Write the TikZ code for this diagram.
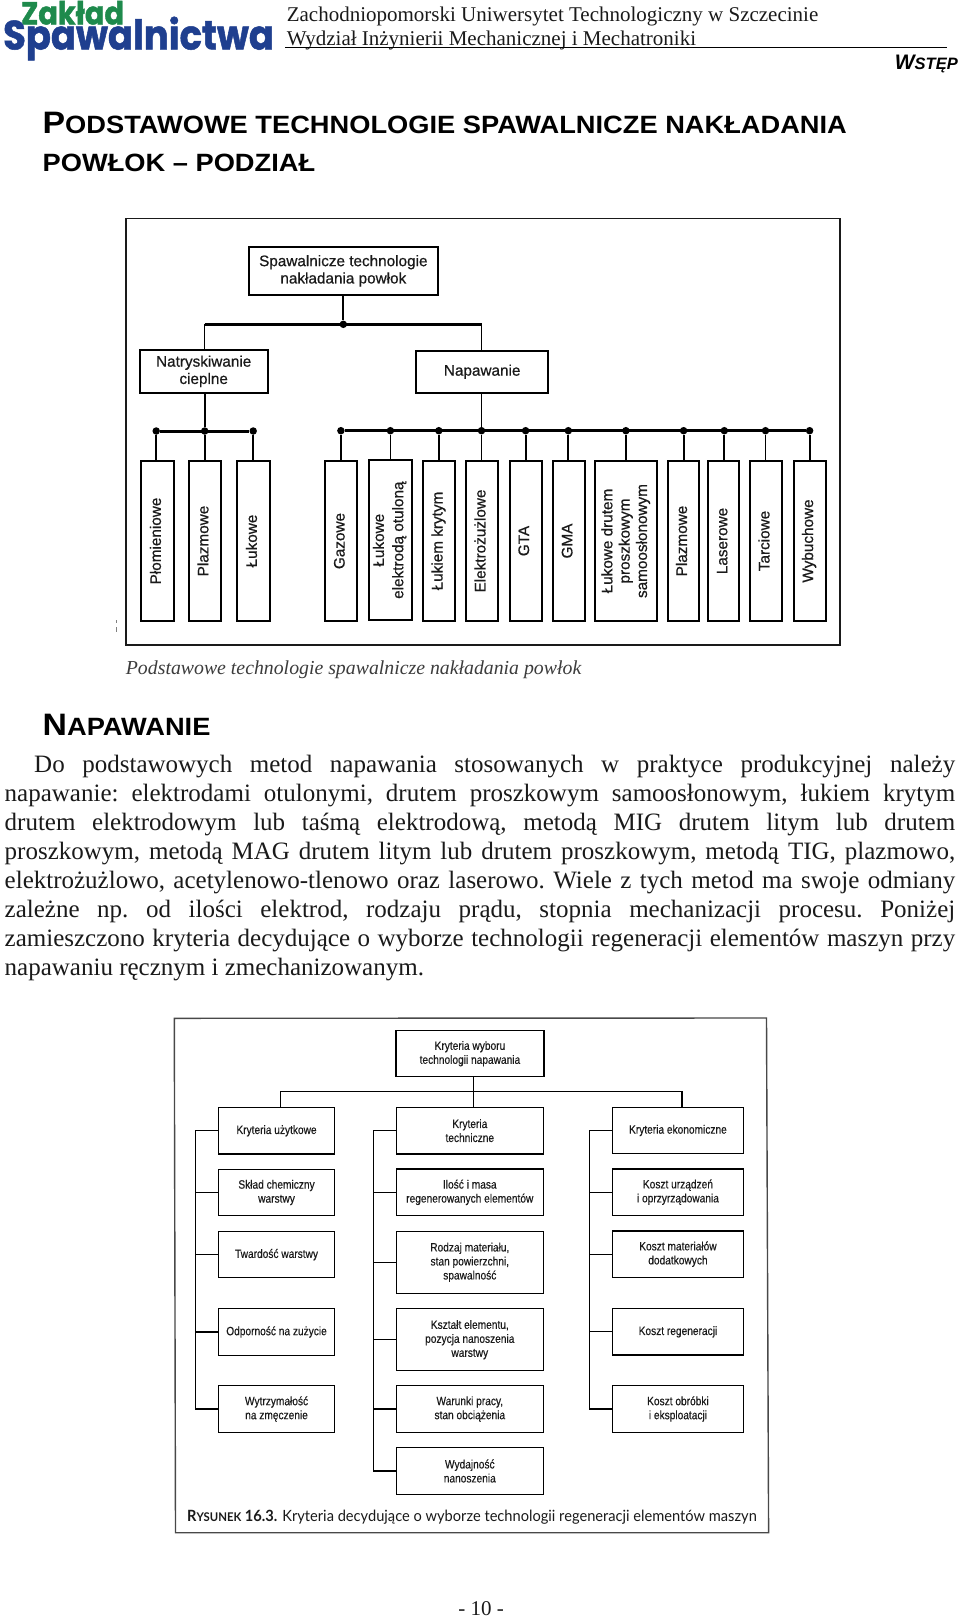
\documentclass[tikz,border=0pt]{standalone}
\usepackage{fontspec}
\usepackage{graphicx}
\setmainfont{Liberation Serif}
\setsansfont{Liberation Sans}
\newfontfamily\cond[FakeStretch=0.84,FakeBold=0.3]{Liberation Sans}
\newfontfamily\diagfont[FakeBold=0.6]{Liberation Sans}
\newfontfamily\hdfont[FakeStretch=1.09]{Liberation Sans}
\newfontfamily\capfont[FakeStretch=0.945]{Lato}
\newfontfamily\logofont[FakeStretch=0.90,BoldFeatures={FakeBold=1.2}]{Poppins}
\usetikzlibrary{calc}
\definecolor{ink}{HTML}{1A1A1A}
\definecolor{logogreen}{HTML}{1E8A4C}
\definecolor{logoblue}{HTML}{1F3F8F}
\newcommand{\bigsc}[4]{{\fontsize{#1}{#1}\selectfont #3}{\fontsize{#2}{#2}\selectfont #4}}
\newcommand{\rt}[1]{\rotatebox[origin=c]{90}{\raisebox{-2pt}{\begin{tabular}{@{}c@{}}#1\end{tabular}}}}
\newcommand{\bx}[7][]{%
  \pgfmathsetmacro\cxx{(#3+#5)/2}%
  \pgfmathsetmacro\cyy{(#4+#6)/2}%
  \node[#1,minimum width={(#5-#3)*1pt},minimum height={(#6-#4)*1pt}] (#2) at (\cxx,\cyy) {#7};}
\tikzset{
  frameone/.style={draw=ink,line width=1.6pt},
  frametwo/.style={draw=ink!80,line width=1.4pt},
  bxa/.style={draw=black,line width=2pt,inner sep=0pt,outer sep=0pt,align=center,text=ink,
    font=\diagfont\fontsize{15.3}{17.3}\selectfont},
  bxb/.style={draw=black,line width=1.2pt,inner sep=0pt,outer sep=0pt,align=center,text=ink,
    font=\cond\fontsize{12.1}{14}\selectfont},
  wire/.style={draw=black,line width=1.8pt},
  bar/.style={draw=black,line width=3pt},
  wireb/.style={draw=black,line width=1.2pt},
  jdot/.style={circle,fill=black,inner sep=0pt,minimum size=7.5pt},
  head/.style={anchor=base west,inner sep=0pt,font=\hdfont\bfseries,text=black},
  bodyt/.style={anchor=north west,inner sep=0pt,align=left,text=ink,font=\frenchspacing\fontsize{25}{29}\selectfont},
  ptxt/.style={anchor=base west,inner sep=0pt,text=ink}
}
\newcommand{\jl}[1]{\makebox[950.5pt][s]{#1}}
\begin{document}
\begin{tikzpicture}[x=1pt,y=-1pt]
\useasboundingbox[fill=white] (0,0) rectangle (960,1617);
% logo
\node[ptxt,text=logogreen,font=\logofont\bfseries\fontsize{32}{32}\selectfont] (lg1) at (21,24.5) {Zakład};
\node[ptxt,text=logoblue,font=\logofont\bfseries\fontsize{41}{41}\selectfont] (lg2) at (3,49.5) {Spawalnictwa};
% header
\node[ptxt,font=\fontsize{21}{24}\selectfont] (h1) at (286.6,21) {Zachodniopomorski Uniwersytet Technologiczny w Szczecinie};
\node[ptxt,font=\fontsize{21}{24}\selectfont] (h2) at (286.6,45) {Wydział Inżynierii Mechanicznej i Mechatroniki};
\coordinate (r1) at (285,47.7); \coordinate (r2) at (947,47.7);
\draw[line width=1.5pt,black] (r1) -- (r2);
\node[head,anchor=base east,font=\sffamily\bfseries\itshape] (wst) at (958,69.5) {\bigsc{21}{16.5}{W}{STĘP}};
% headings
\node[head] (t1) at (42.5,133.5) {\bigsc{31}{25}{P}{ODSTAWOWE TECHNOLOGIE SPAWALNICZE NAKŁADANIA}};
\node[head] (t2) at (42.5,171.5) {\bigsc{25}{25}{P}{OWŁOK – PODZIAŁ}};
\node[head] (t3) at (42.5,735) {\bigsc{31}{25}{N}{APAWANIE}};
% first diagram
\draw[frameone] (125.7,218.3) rectangle (840,645);
\coordinate (m1) at (116,620); \coordinate (m2) at (116,623); \coordinate (m3) at (116,627); \coordinate (m4) at (116,632);
\draw[gray,line width=.8pt] (m1)--(m2) (m3)--(m4);
\bx[bxa]{top}{248.8}{246.7}{437.9}{295}{Spawalnicze technologie\\nakładania powłok}
\bx[bxa]{nat}{139.7}{350}{267.7}{392.7}{Natryskiwanie\\cieplne}
\bx[bxa]{nap}{416}{350.7}{548.4}{392.7}{Napawanie}
\node[jdot] (j0) at (343.3,324.3) {};
\coordinate (jl) at (204.5,324.3); \coordinate (jr) at (481.5,324.3);
\draw[wire] (top.south-|j0) -- (j0);
\draw[bar,line width=2.4pt] (jl) -- (jr);
\draw[wire] (jl) -- (jl|-nat.north);
\draw[wire] (jr) -- (jr|-nap.north);
% left group
\foreach \n/\a/\b/\t in {b1/141.2/173.7/Płomieniowe,b2/188.7/221.2/Plazmowe,b3/237.2/269.7/Łukowe}{
  \bx[bxa]{\n}{\a}{461}{\b}{621}{\rt{\t}}
}
\node[jdot] (ja) at (156.2,431) {};
\node[jdot] (jb) at (204.7,431) {};
\node[jdot] (jc) at (253.2,431) {};
\draw[bar] (ja) -- (jc);
\draw[wire] (jb|-nat.south) -- (jb);
\draw[wire] (ja) -- (ja|-b1.north);
\draw[wire] (jb) -- (jb|-b2.north);
\draw[wire] (jc) -- (jc|-b3.north);
% right group
\bx[bxa]{c1}{324.9}{461}{357.4}{621}{\rt{Gazowe}}
\bx[bxa]{c2}{368.5}{460.3}{411.7}{620}{\rt{Łukowe\\[2pt]elektrodą otuloną}}
\bx[bxa]{c3}{422.8}{461}{455.3}{621}{\rt{Łukiem krytym}}
\bx[bxa]{c4}{466}{461}{498}{621}{\rt{Elektrożużlowe}}
\bx[bxa]{c5}{509.6}{461}{541.6}{621}{\rt{GTA}}
\bx[bxa]{c6}{553.2}{461}{584.7}{621}{\rt{GMA}}
\bx[bxa]{c7}{595.4}{461}{657}{621}{\rt{Łukowe drutem\\proszkowym\\samoosłonowym}}
\bx[bxa]{c8}{668}{461}{699}{621}{\rt{Plazmowe}}
\bx[bxa]{c9}{708.3}{461}{739.4}{621}{\rt{Laserowe}}
\bx[bxa]{c10}{750}{461}{782}{621}{\rt{Tarciowe}}
\bx[bxa]{c11}{793.6}{461}{825.6}{621}{\rt{Wybuchowe}}
\foreach \i/\x in {1/340.9,2/390.4,3/438.8,4/481.5,5/525.6,6/568.3,7/625.9,8/683.6,9/724.3,10/765.5,11/809.6}{
  \node[jdot] (d\i) at (\x,430.7) {};
  \draw[wire] (d\i) -- (d\i|-c\i.north);
}
\draw[bar] (d1) -- (d11);
\draw[wire] (d4|-nap.south) -- (d4);
\node[ptxt,text=ink!85,font=\itshape\fontsize{19.8}{20}\selectfont] (cap1) at (125.7,674) {Podstawowe technologie spawalnicze nakładania powłok};
% body
\node[bodyt] (body) at (4.5,754.5) {%
\jl{\hspace{29.5pt}Do podstawowych metod napawania stosowanych w praktyce produkcyjnej należy}\\
\jl{napawanie: elektrodami otulonymi, drutem proszkowym samoosłonowym, łukiem krytym}\\
\jl{drutem elektrodowym lub taśmą elektrodową, metodą MIG drutem litym lub drutem}\\
\jl{proszkowym, metodą MAG drutem litym lub drutem proszkowym, metodą TIG, plazmowo,}\\
\jl{elektrożużlowo, acetylenowo-tlenowo oraz laserowo. Wiele z tych metod ma swoje odmiany}\\
\jl{zależne np. od ilości elektrod, rodzaju prądu, stopnia mechanizacji procesu. Poniżej}\\
\jl{zamieszczono kryteria decydujące o wyborze technologii regeneracji elementów maszyn przy}\\
napawaniu ręcznym i zmechanizowanym.};
% second diagram
\draw[frametwo] (174.3,1018.3) -- (766.5,1018) -- (768.6,1532.7) -- (175.5,1532.7) -- cycle;
\bx[bxb]{k0}{395.9}{1030.7}{544}{1076.7}{Kryteria wyboru\\technologii napawania}
\bx[bxb]{a1}{218.4}{1107.7}{334.7}{1154}{Kryteria użytkowe}
\bx[bxb]{a2}{218.4}{1169.3}{334.7}{1215.7}{Skład chemiczny\\warstwy}
\bx[bxb]{a3}{218.4}{1231.7}{334.7}{1277.7}{Twardość warstwy}
\bx[bxb]{a4}{218.4}{1308.7}{334.7}{1355.3}{Odporność na zużycie}
\bx[bxb]{a5}{218.4}{1385.7}{334.7}{1432.3}{Wytrzymałość\\na zmęczenie}
\bx[bxb]{e1}{396.3}{1107.3}{543.3}{1154}{Kryteria\\techniczne}
\bx[bxb]{e2}{396.3}{1169}{543.3}{1215.7}{Ilość i masa\\regenerowanych elementów}
\bx[bxb]{e3}{396.3}{1231.3}{543.3}{1293.3}{Rodzaj materiału,\\stan powierzchni,\\spawalność}
\bx[bxb]{e4}{396.3}{1308.7}{543.3}{1370.7}{Kształt elementu,\\pozycja nanoszenia\\warstwy}
\bx[bxb]{e5}{396.3}{1385.7}{543.3}{1432.3}{Warunki pracy,\\stan obciążenia}
\bx[bxb]{e6}{396.3}{1447.7}{543.3}{1494.3}{Wydajność\\nanoszenia}
\bx[bxb]{g1}{612.2}{1107.3}{743.7}{1153.7}{Kryteria ekonomiczne}
\bx[bxb]{g2}{612.2}{1169}{743.7}{1215.3}{Koszt urządzeń\\i oprzyrządowania}
\bx[bxb]{g3}{612.2}{1231}{743.7}{1277.3}{Koszt materiałów\\dodatkowych}
\bx[bxb]{g4}{612.2}{1308.7}{743.7}{1355}{Koszt regeneracji}
\bx[bxb]{g5}{612.2}{1385.7}{743.7}{1432.3}{Koszt obróbki\\i eksploatacji}
\coordinate (q0) at (473.5,1091.7);
\coordinate (ql) at (280.4,1091.7);
\coordinate (qr) at (682,1091.7);
\draw[wireb] (q0|-k0.south) -- (q0|-e1.north);
\draw[wireb] (ql|-a1.north) -- (ql) -- (qr) -- (qr|-g1.north);
\coordinate (ta) at (195.5,1130);
\coordinate (tb) at (373.5,1130);
\coordinate (tc) at (589.8,1130);
\draw[wireb] (a1.west) -- (ta|-a1.west) -- (ta|-a5.west) -- (a5.west);
\foreach \n in {a2,a3,a4} \draw[wireb] (ta|-\n.west) -- (\n.west);
\draw[wireb] (e1.west) -- (tb|-e1.west) -- (tb|-e6.west) -- (e6.west);
\foreach \n in {e2,e3,e4,e5} \draw[wireb] (tb|-\n.west) -- (\n.west);
\draw[wireb] (g1.west) -- (tc|-g1.west) -- (tc|-g5.west) -- (g5.west);
\foreach \n in {g2,g3,g4} \draw[wireb] (tc|-\n.west) -- (\n.west);
\node[ptxt,font=\capfont\fontsize{15.5}{16}\selectfont] (cap2) at (187,1521.7) {{\bfseries R{\fontsize{12}{12}\selectfont YSUNEK} 16.3.} Kryteria decydujące o wyborze technologii regeneracji elementów maszyn};
\node[anchor=base,inner sep=0pt,text=ink,font=\fontsize{21}{21}\selectfont] (pg) at (481,1615) {- 10 -};
\end{tikzpicture}
\end{document}
